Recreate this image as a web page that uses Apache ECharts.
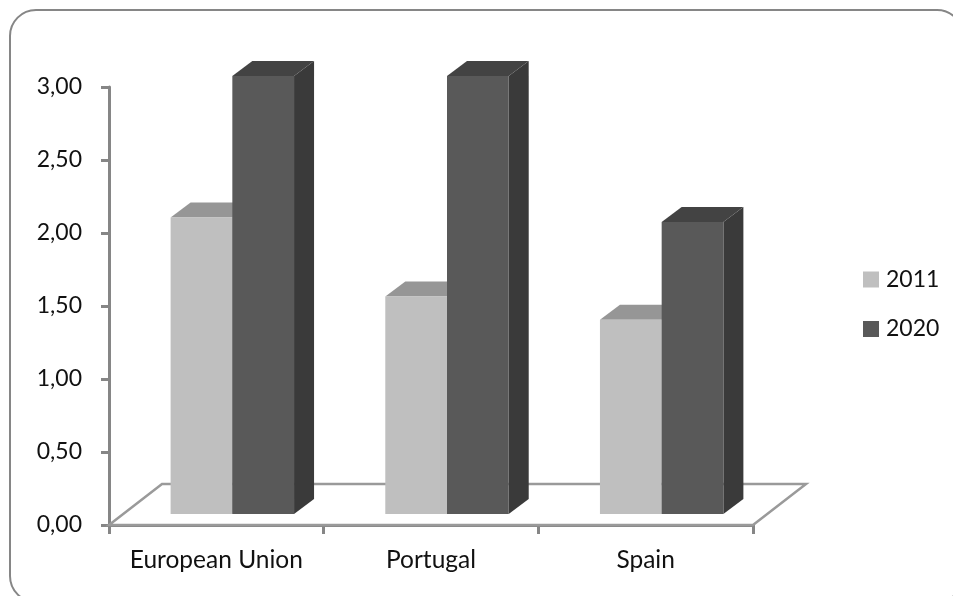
<!DOCTYPE html>
<html>
<head>
<meta charset="utf-8">
<style>html,body{margin:0;padding:0;background:#fff}#chart{width:953px;height:596px}</style>
<script src="https://cdn.jsdelivr.net/npm/echarts@6/dist/echarts.min.js"></script>
</head>
<body>
<div id="chart"></div>
<script>
const categories = ['European Union', 'Portugal', 'Spain'];
const values2011 = [2.03, 1.49, 1.33];
const values2020 = [3.00, 3.00, 2.00];
const yTicks = { min: 0, max: 3, interval: 0.5 };

// Oblique projection used for the pseudo-3D look, in pixels.
const FLOOR_DX = 53, FLOOR_DY = 41;
const ROW_DX = 16, ROW_DY = 11;
const BAR_DX = 20, BAR_DY = 15;
const BAR_BAND_RATIO = 0.2875;

const AXIS_COLOR = '#868686';
const FONT = 'Lato';

function barRenderer(slot, colors) {
  return function (params, api) {
    const cat = api.value(0);
    const top = api.coord([cat, api.value(1)]);
    const base = api.coord([cat, 0]);
    const w = api.size([1, 0])[0] * BAR_BAND_RATIO;
    const x = top[0] + ROW_DX + (slot - 1) * w;
    const yTop = top[1] - ROW_DY;
    const yBase = base[1] - ROW_DY;
    return {
      type: 'group',
      children: [
        { type: 'polygon', shape: { points: [[x + w, yTop], [x + w + BAR_DX, yTop - BAR_DY], [x + w + BAR_DX, yBase - BAR_DY], [x + w, yBase]] }, style: { fill: colors.side } },
        { type: 'polygon', shape: { points: [[x, yTop], [x + BAR_DX, yTop - BAR_DY], [x + w + BAR_DX, yTop - BAR_DY], [x + w, yTop]] }, style: { fill: colors.top } },
        { type: 'rect', shape: { x: x, y: yTop, width: w, height: yBase - yTop }, style: { fill: colors.front } }
      ]
    };
  };
}

// Floor parallelogram behind the bars, taken from the plot rectangle.
function floorRenderer(params) {
  const g = params.coordSys;
  const b = g.y + g.height;
  return {
    type: 'polygon',
    shape: { points: [[g.x, b], [g.x + FLOOR_DX, b - FLOOR_DY], [g.x + g.width + FLOOR_DX, b - FLOOR_DY], [g.x + g.width, b]] },
    style: { fill: '#fff', stroke: '#9a9a9a', lineWidth: 2.5 }
  };
}

const chart = echarts.init(document.getElementById('chart'), null, { renderer: 'canvas' });
chart.setOption({
  animation: false,
  backgroundColor: '#fff',
  graphic: [{
    type: 'rect', left: 9, top: 9, z: -1,
    shape: { width: 953, height: 592, r: 26 },
    style: { fill: '#fff', stroke: AXIS_COLOR, lineWidth: 2 }
  }],
  legend: {
    data: ['2011', '2020'],
    orient: 'vertical',
    left: 858, top: 263,
    itemWidth: 16, itemHeight: 16, itemGap: 26.5,
    icon: 'rect',
    textStyle: { fontFamily: FONT, fontSize: 23, color: '#111', padding: [0, 0, 0, 2] },
    selectedMode: false
  },
  grid: { left: 109, right: 200, top: 87, bottom: 71 },
  xAxis: {
    type: 'category',
    data: categories,
    boundaryGap: true,
    axisLine: { lineStyle: { color: AXIS_COLOR, width: 3 } },
    axisTick: { show: true, length: 9, interval: 0, alignWithLabel: false, lineStyle: { color: AXIS_COLOR, width: 3 } },
    axisLabel: { interval: 0, fontFamily: FONT, fontSize: 24.5, color: '#111', margin: 23 }
  },
  yAxis: {
    type: 'value',
    min: yTicks.min, max: yTicks.max, interval: yTicks.interval,
    splitLine: { show: false },
    axisLine: { show: true, lineStyle: { color: AXIS_COLOR, width: 3 } },
    axisTick: { show: true, length: 8, lineStyle: { color: AXIS_COLOR, width: 3 } },
    axisLabel: { fontFamily: FONT, fontSize: 23, color: '#111', margin: 27, formatter: v => v.toFixed(2).replace('.', ',') }
  },
  series: [
    { type: 'custom', name: 'floor', coordinateSystem: 'cartesian2d', clip: false, silent: true, z: 1, data: [[0, 0]], renderItem: floorRenderer },
    {
      type: 'custom', name: '2011', coordinateSystem: 'cartesian2d', clip: false, z: 2,
      itemStyle: { color: '#bfbfbf' },
      encode: { x: 0, y: 1 },
      data: values2011.map((v, i) => [i, v]),
      renderItem: barRenderer(0, { front: '#bfbfbf', top: '#969696', side: '#7f7f7f' })
    },
    {
      type: 'custom', name: '2020', coordinateSystem: 'cartesian2d', clip: false, z: 3,
      itemStyle: { color: '#595959' },
      encode: { x: 0, y: 1 },
      data: values2020.map((v, i) => [i, v]),
      renderItem: barRenderer(1, { front: '#595959', top: '#434343', side: '#3a3a3a' })
    }
  ]
});
</script>
</body>
</html>
